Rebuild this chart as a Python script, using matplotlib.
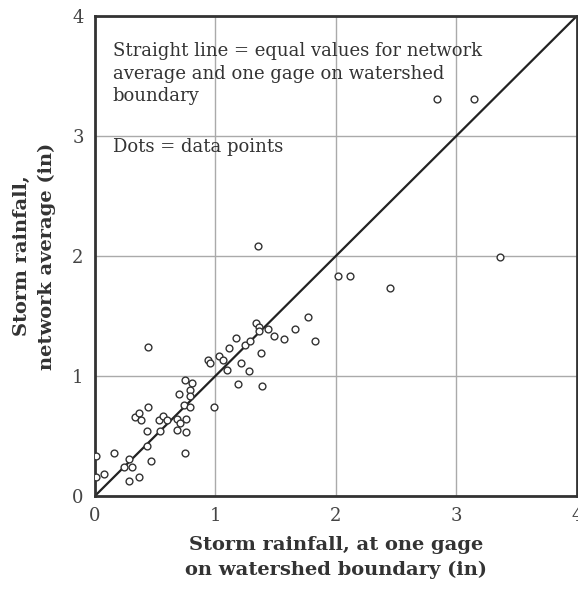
import matplotlib
matplotlib.use('Agg')
import matplotlib.pyplot as plt
import numpy as np

plt.rcParams['font.family'] = ['DejaVu Serif']

# gage on watershed boundary (x) vs network average (y), inches
gage_in = [0.44, 1.17, 1.25, 1.11, 0.94, 0.96, 1.03, 1.06, 1.10, 1.21,
           1.19, 1.28, 0.75, 0.81, 0.79, 0.70, 0.79, 0.74, 0.79, 0.99,
           0.44, 0.33, 0.37, 0.38, 0.53, 0.57, 0.60, 0.68, 0.71, 0.76,
           0.68, 0.76, 0.54, 0.43, 0.43, 0.75, 0.01, 0.16, 0.28, 0.47,
           0.24, 0.31, 0.08, 0.01, 0.37, 0.28,
           1.77, 1.34, 1.36, 1.36, 1.44, 1.49, 1.57, 1.66, 1.83, 1.29,
           1.38, 1.39, 1.355, 2.02, 2.12, 2.45, 3.36, 2.84, 3.15]
network_in = [1.24, 1.32, 1.26, 1.23, 1.13, 1.11, 1.17, 1.13, 1.05, 1.11,
              0.93, 1.04, 0.97, 0.94, 0.88, 0.85, 0.83, 0.76, 0.74, 0.74,
              0.74, 0.66, 0.69, 0.63, 0.63, 0.67, 0.63, 0.64, 0.61, 0.64,
              0.55, 0.53, 0.54, 0.54, 0.42, 0.36, 0.33, 0.36, 0.31, 0.29,
              0.24, 0.24, 0.18, 0.16, 0.16, 0.125,
              1.49, 1.44, 1.41, 1.375, 1.39, 1.33, 1.31, 1.39, 1.29, 1.29,
              1.19, 0.92, 2.08, 1.83, 1.83, 1.73, 1.99, 3.31, 3.31]
ticks = [0, 1, 2, 3, 4]

fig = plt.figure(figsize=(5.78, 5.92), dpi=100)
ax = fig.add_axes([0.164, 0.162, 0.834, 0.811])

ax.plot([0, 4], [0, 4], color='#222222', lw=1.6, zorder=2)
ax.scatter(gage_in, network_in, s=24, facecolors='white', edgecolors='#333333',
           linewidths=1.0, zorder=3)

ax.set_xlim(0, 4)
ax.set_ylim(0, 4)
ax.set_xticks(ticks)
ax.set_yticks(ticks)
ax.tick_params(length=0, labelsize=13, pad=8, colors='#444444')
ax.grid(True, color='#aaaaaa', lw=1.0)
ax.set_axisbelow(True)
for sp in ax.spines.values():
    sp.set_linewidth(2.0)
    sp.set_color('#333333')

ax.set_xlabel('Storm rainfall, at one gage\non watershed boundary (in)',
              fontsize=14, fontweight='bold', color='#333333', labelpad=8,
              linespacing=1.45)
ax.set_ylabel('Storm rainfall,\nnetwork average (in)',
              fontsize=14, fontweight='bold', color='#333333', labelpad=12,
              linespacing=1.45)

ax.text(0.15, 3.78, 'Straight line = equal values for network\n'
        'average and one gage on watershed\nboundary',
        fontsize=13, color='#333333', va='top', ha='left', linespacing=1.3)
ax.text(0.15, 2.98, 'Dots = data points', fontsize=13, color='#333333',
        va='top', ha='left')

fig.savefig('out.png', dpi=100)
